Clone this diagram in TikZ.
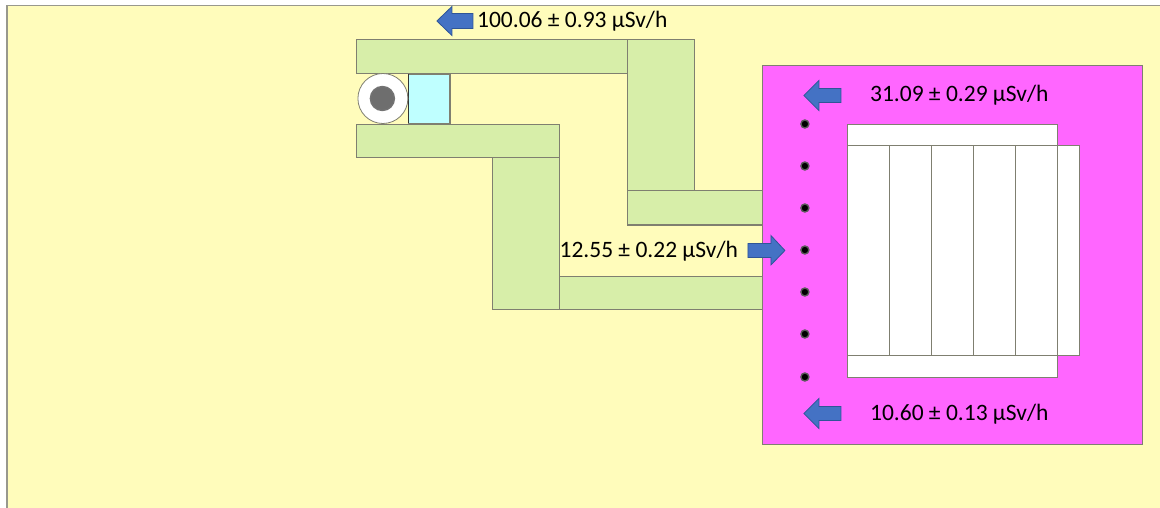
\documentclass[tikz,border=0pt]{standalone}
\usepackage{fontspec}
\setmainfont{Carlito}
\definecolor{bgyellow}{HTML}{FFFCBB}
\definecolor{wallgreen}{HTML}{D7EEA9}
\definecolor{roompink}{HTML}{FF66FF}
\definecolor{boxcyan}{HTML}{BFFFFF}
\definecolor{arrowblue}{HTML}{4472C4}
\definecolor{arrowedge}{HTML}{2F5597}
\definecolor{linegray}{HTML}{7F7F70}
\definecolor{coregray}{HTML}{6E6E6E}
\tikzset{
  wall/.style={draw=linegray,line width=1.1pt,fill=wallgreen},
  panel/.style={draw=linegray,line width=1.1pt,fill=white},
  doseout/.style={draw=arrowedge,line width=0.8pt,fill=arrowblue},
  dosetext/.style={anchor=west,inner sep=0pt,text=black,font=\fontsize{23.5}{28}\selectfont},
  probe/.style={circle,draw=black!65,fill=black,line width=1.4pt,minimum size=8pt,inner sep=0pt}
}
\begin{document}
\begin{tikzpicture}[x=1pt,y=-1pt]
\useasboundingbox (0,0) rectangle (1160,508);
\fill[white] (0,0) rectangle (1160,508);
\fill[bgyellow] (7,5.5) rectangle (1160,508);
\draw[linegray!80,line width=1.6pt] (7,508) -- (7,5.5) -- (1160,5.5);
\begin{scope}[shift={(-0.1,0.5)}]
% maze walls
\draw[wall] (357,39) rectangle (628,73);
\draw[wall] (628,39) rectangle (695,190);
\draw[wall] (628,190) rectangle (763,224.5);
\draw[wall] (357,124) rectangle (560,157);
\draw[wall] (493,157) rectangle (560,309);
\draw[wall] (560,276) rectangle (763,309);
% source
\draw[draw=linegray,line width=1.4pt,fill=boxcyan] (408.5,73.5) rectangle (450,123);
\draw[draw=black!80,line width=0.8pt] (408.5,73.5) -- (408.5,123);
\draw[draw=linegray,line width=0.8pt,fill=white] (383,98) circle[radius=25];
\draw[draw=black!55,line width=1.4pt,fill=coregray] (382.5,98) circle[radius=12];
% room
\draw[draw=linegray,line width=1pt,fill=roompink] (763,65) rectangle (1143,444);
% panels
\draw[panel] (848,124) rectangle (1058,145);
\draw[panel] (848,355) rectangle (1058,377);
\draw[panel] (1058,145) rectangle (1080,355);
\foreach \a/\b in {848/890,890/932,932/974,974/1016,1016/1058}
  \draw[panel] (\a,145) rectangle (\b,355);
% probes
\foreach \n/\y in {1/123.5,2/165.5,3/207.5,4/249.5,5/291.5,6/333.5,7/376.5}
  \node[probe] (p\n) at (805,\y) {};
% arrows
\draw[doseout] (437,20.5) -- (452,6) -- (452,13) -- (473,13) -- (473,28) -- (452,28) -- (452,35) -- cycle;
\draw[doseout] (804,95) -- (819,80) -- (819,88) -- (841,88) -- (841,102) -- (819,102) -- (819,110) -- cycle;
\draw[doseout] (785,250) -- (771,235) -- (771,243) -- (748,243) -- (748,257) -- (771,257) -- (771,264.5) -- cycle;
\draw[doseout] (804,413) -- (819,398) -- (819,406) -- (841,406) -- (841,420) -- (819,420) -- (819,428) -- cycle;
% labels
\node[dosetext] (d1) at (477,21) {100.06 ± 0.93 µSv/h};
\node[dosetext] (d2) at (870,95) {31.09 ± 0.29 µSv/h};
\node[dosetext] (d3) at (559.5,250.5) {12.55 ± 0.22 µSv/h};
\node[dosetext] (d4) at (870,413.5) {10.60 ± 0.13 µSv/h};
\end{scope}
\end{tikzpicture}
\end{document}
